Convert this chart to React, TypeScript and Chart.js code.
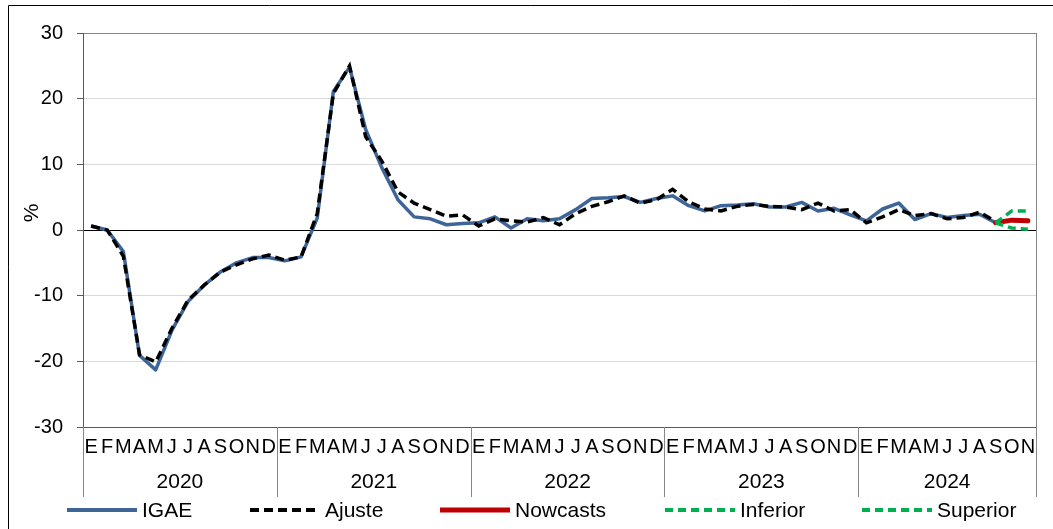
import React, { useEffect, useRef } from 'react';
import { Chart, registerables } from 'chart.js';

Chart.register(...registerables);

const years = ['2020', '2021', '2022', '2023', '2024'];
const monthLetters = ['E', 'F', 'M', 'A', 'M', 'J', 'J', 'A', 'S', 'O', 'N', 'D'];
const monthsPerYear = [12, 12, 12, 12, 11];

const categories: string[] = [];
years.forEach((y, yi) => {
  for (let m = 0; m < monthsPerYear[yi]; m++) categories.push(monthLetters[m]);
});

const yTicks = [-30, -20, -10, 0, 10, 20, 30];

const igae: (number | null)[] = [
  0.6, 0.0, -3.3, -19.1, -21.3, -15.3, -10.9, -8.4, -6.4, -5.0, -4.2, -4.2,
  -4.7, -4.1, 1.8, 21.1, 24.8, 15.3, 9.5, 4.6, 2.0, 1.7, 0.8, 1.0,
  1.1, 2.0, 0.3, 1.7, 1.4, 1.7, 3.1, 4.8, 4.9, 5.1, 4.2, 4.8,
  5.2, 3.7, 2.9, 3.7, 3.8, 4.0, 3.5, 3.5, 4.2, 2.9, 3.3, 2.3,
  1.4, 3.2, 4.1, 1.6, 2.5, 1.9, 2.2, 2.4, 1.1, null, null,
];

const ajuste: (number | null)[] = [
  0.6, 0.0, -4.0, -19.0, -20.1, -15.0, -10.7, -8.4, -6.4, -5.3, -4.4, -3.8,
  -4.6, -4.1, 2.5, 20.8, 25.0, 14.2, 10.5, 5.8, 4.1, 3.1, 2.1, 2.3,
  0.6, 1.7, 1.4, 1.2, 1.9, 0.8, 2.5, 3.6, 4.3, 5.2, 4.1, 4.6,
  6.2, 4.3, 3.2, 2.9, 3.6, 3.9, 3.6, 3.5, 3.1, 4.1, 2.9, 3.1,
  1.1, 2.0, 3.1, 2.2, 2.5, 1.7, 1.9, 2.7, 1.3, null, null,
];

const nowcastTail = [1.1, 1.5, 1.4];
const inferiorTail = [1.1, 0.3, 0.1];
const superiorTail = [1.1, 2.9, 2.9];

const withTail = (tail: number[]) => {
  const arr: (number | null)[] = categories.map(() => null);
  const start = categories.length - tail.length;
  tail.forEach((v, i) => (arr[start + i] = v));
  return arr;
};

const FONT = "'Liberation Sans', Arial, sans-serif";

const decorPlugin = {
  id: 'decor',
  afterDraw(chart: any) {
    const { ctx, chartArea: ca, scales } = chart;
    const x = scales.x;
    ctx.save();
    // outer frame
    ctx.strokeStyle = '#000000';
    ctx.lineWidth = 1;
    ctx.beginPath();
    ctx.moveTo(8.5, 529);
    ctx.lineTo(8.5, 5.5);
    ctx.lineTo(1053, 5.5);
    ctx.stroke();

    // plot area right border
    ctx.strokeStyle = '#868686';
    ctx.beginPath();
    ctx.moveTo(Math.round(ca.right) + 0.5, ca.top);
    ctx.lineTo(Math.round(ca.right) + 0.5, ca.bottom);
    ctx.stroke();

    // year separators & labels
    const n = categories.length;
    const half = (x.getPixelForValue(1) - x.getPixelForValue(0)) / 2;
    const bounds: number[] = [0];
    monthsPerYear.forEach((m, i) => bounds.push(bounds[i] + m));
    const bx = bounds.map((b) => (b < n ? x.getPixelForValue(b) - half : x.getPixelForValue(n - 1) + half));
    ctx.strokeStyle = '#868686';
    bx.forEach((px) => {
      const xx = Math.round(px) + 0.5;
      ctx.beginPath();
      ctx.moveTo(xx, ca.bottom);
      ctx.lineTo(xx, ca.bottom + 70);
      ctx.stroke();
    });
    ctx.fillStyle = '#000000';
    ctx.font = `21px ${FONT}`;
    ctx.textAlign = 'center';
    ctx.textBaseline = 'middle';
    years.forEach((y, i) => {
      ctx.fillText(y, (bx[i] + bx[i + 1]) / 2, ca.bottom + 55);
    });

    // y axis title
    ctx.save();
    ctx.translate(32, 213);
    ctx.rotate(-Math.PI / 2);
    ctx.fillText('%', 0, 0);
    ctx.restore();

    // legend
    const lx = [67, 250, 440, 665, 862];
    const ly = 510;
    ctx.textAlign = 'left';
    chart.data.datasets.forEach((ds: any, i: number) => {
      ctx.save();
      ctx.strokeStyle = ds.borderColor;
      ctx.lineWidth = ds.legendWidth;
      ctx.setLineDash(ds.borderDash || []);
      ctx.lineCap = 'butt';
      ctx.beginPath();
      ctx.moveTo(lx[i], ly);
      ctx.lineTo(lx[i] + 70, ly);
      ctx.stroke();
      ctx.restore();
      ctx.fillStyle = '#000000';
      ctx.fillText(ds.label, lx[i] + 75, ly + 1);
    });
    ctx.restore();
  },
};

export default function App() {
  const ref = useRef<HTMLCanvasElement | null>(null);
  useEffect(() => {
    document.body.style.margin = '0';
    const canvas = ref.current!;
    const chart = new Chart(canvas, {
      type: 'line',
      data: {
        labels: categories,
        datasets: [
          {
            label: 'IGAE',
            data: igae,
            borderColor: '#3E6598',
            borderWidth: 3.5,
            legendWidth: 4,
            pointRadius: 0,
            order: 5,
            borderJoinStyle: 'round',
          } as any,
          {
            label: 'Ajuste',
            data: ajuste,
            borderColor: '#000000',
            borderWidth: 3.5,
            legendWidth: 4,
            borderDash: [9, 5],
            pointRadius: 0,
            order: 4,
          } as any,
          {
            label: 'Nowcasts',
            data: withTail(nowcastTail),
            borderColor: '#C00000',
            borderWidth: 5,
            legendWidth: 5,
            pointRadius: 0,
            order: 3,
            borderCapStyle: 'round',
            borderJoinStyle: 'round',
          } as any,
          {
            label: 'Inferior',
            data: withTail(inferiorTail),
            borderColor: '#00B050',
            borderWidth: 3.5,
            legendWidth: 4,
            borderDash: [8, 5],
            pointRadius: 0,
            order: 2,
          } as any,
          {
            label: 'Superior',
            data: withTail(superiorTail),
            borderColor: '#00B050',
            borderWidth: 3.5,
            legendWidth: 4,
            borderDash: [8, 5],
            pointRadius: 0,
            order: 1,
          } as any,
        ],
      },
      options: {
        animation: false,
        responsive: false,
        devicePixelRatio: 1,
        layout: { padding: { left: 0, right: 17, top: 33, bottom: 32 } },
        plugins: {
          legend: { display: false },
          tooltip: { enabled: false },
        },
        scales: {
          x: {
            type: 'category',
            offset: true,
            grid: { display: false, drawTicks: false, tickLength: 0 },
            border: { display: true, color: '#595959' },
            ticks: {
              autoSkip: false,
              maxRotation: 0,
              minRotation: 0,
              padding: 8,
              color: '#000000',
              font: { family: FONT, size: 20 },
            },
            afterFit: (s: any) => {
              s.height = 70;
            },
          },
          y: {
            min: -30,
            max: 30,
            afterBuildTicks: (s: any) => {
              s.ticks = yTicks.map((v) => ({ value: v }));
            },
            grid: {
              color: (c: any) =>
                c.tick && c.tick.value === 0 ? '#000000' : c.tick && c.tick.value === 30 ? '#868686' : '#D9D9D9',
              tickColor: '#595959',
              tickLength: 6,
              lineWidth: 1,
            },
            border: { display: true, color: '#595959' },
            ticks: {
              padding: 14,
              color: '#000000',
              font: { family: FONT, size: 20 },
            },
            afterFit: (s: any) => {
              s.width = 83;
            },
          },
        },
      } as any,
      plugins: [decorPlugin],
    });
    return () => chart.destroy();
  }, []);
  return <canvas ref={ref} width={1053} height={529} style={{ display: 'block', width: 1053, height: 529 }} />;
}
